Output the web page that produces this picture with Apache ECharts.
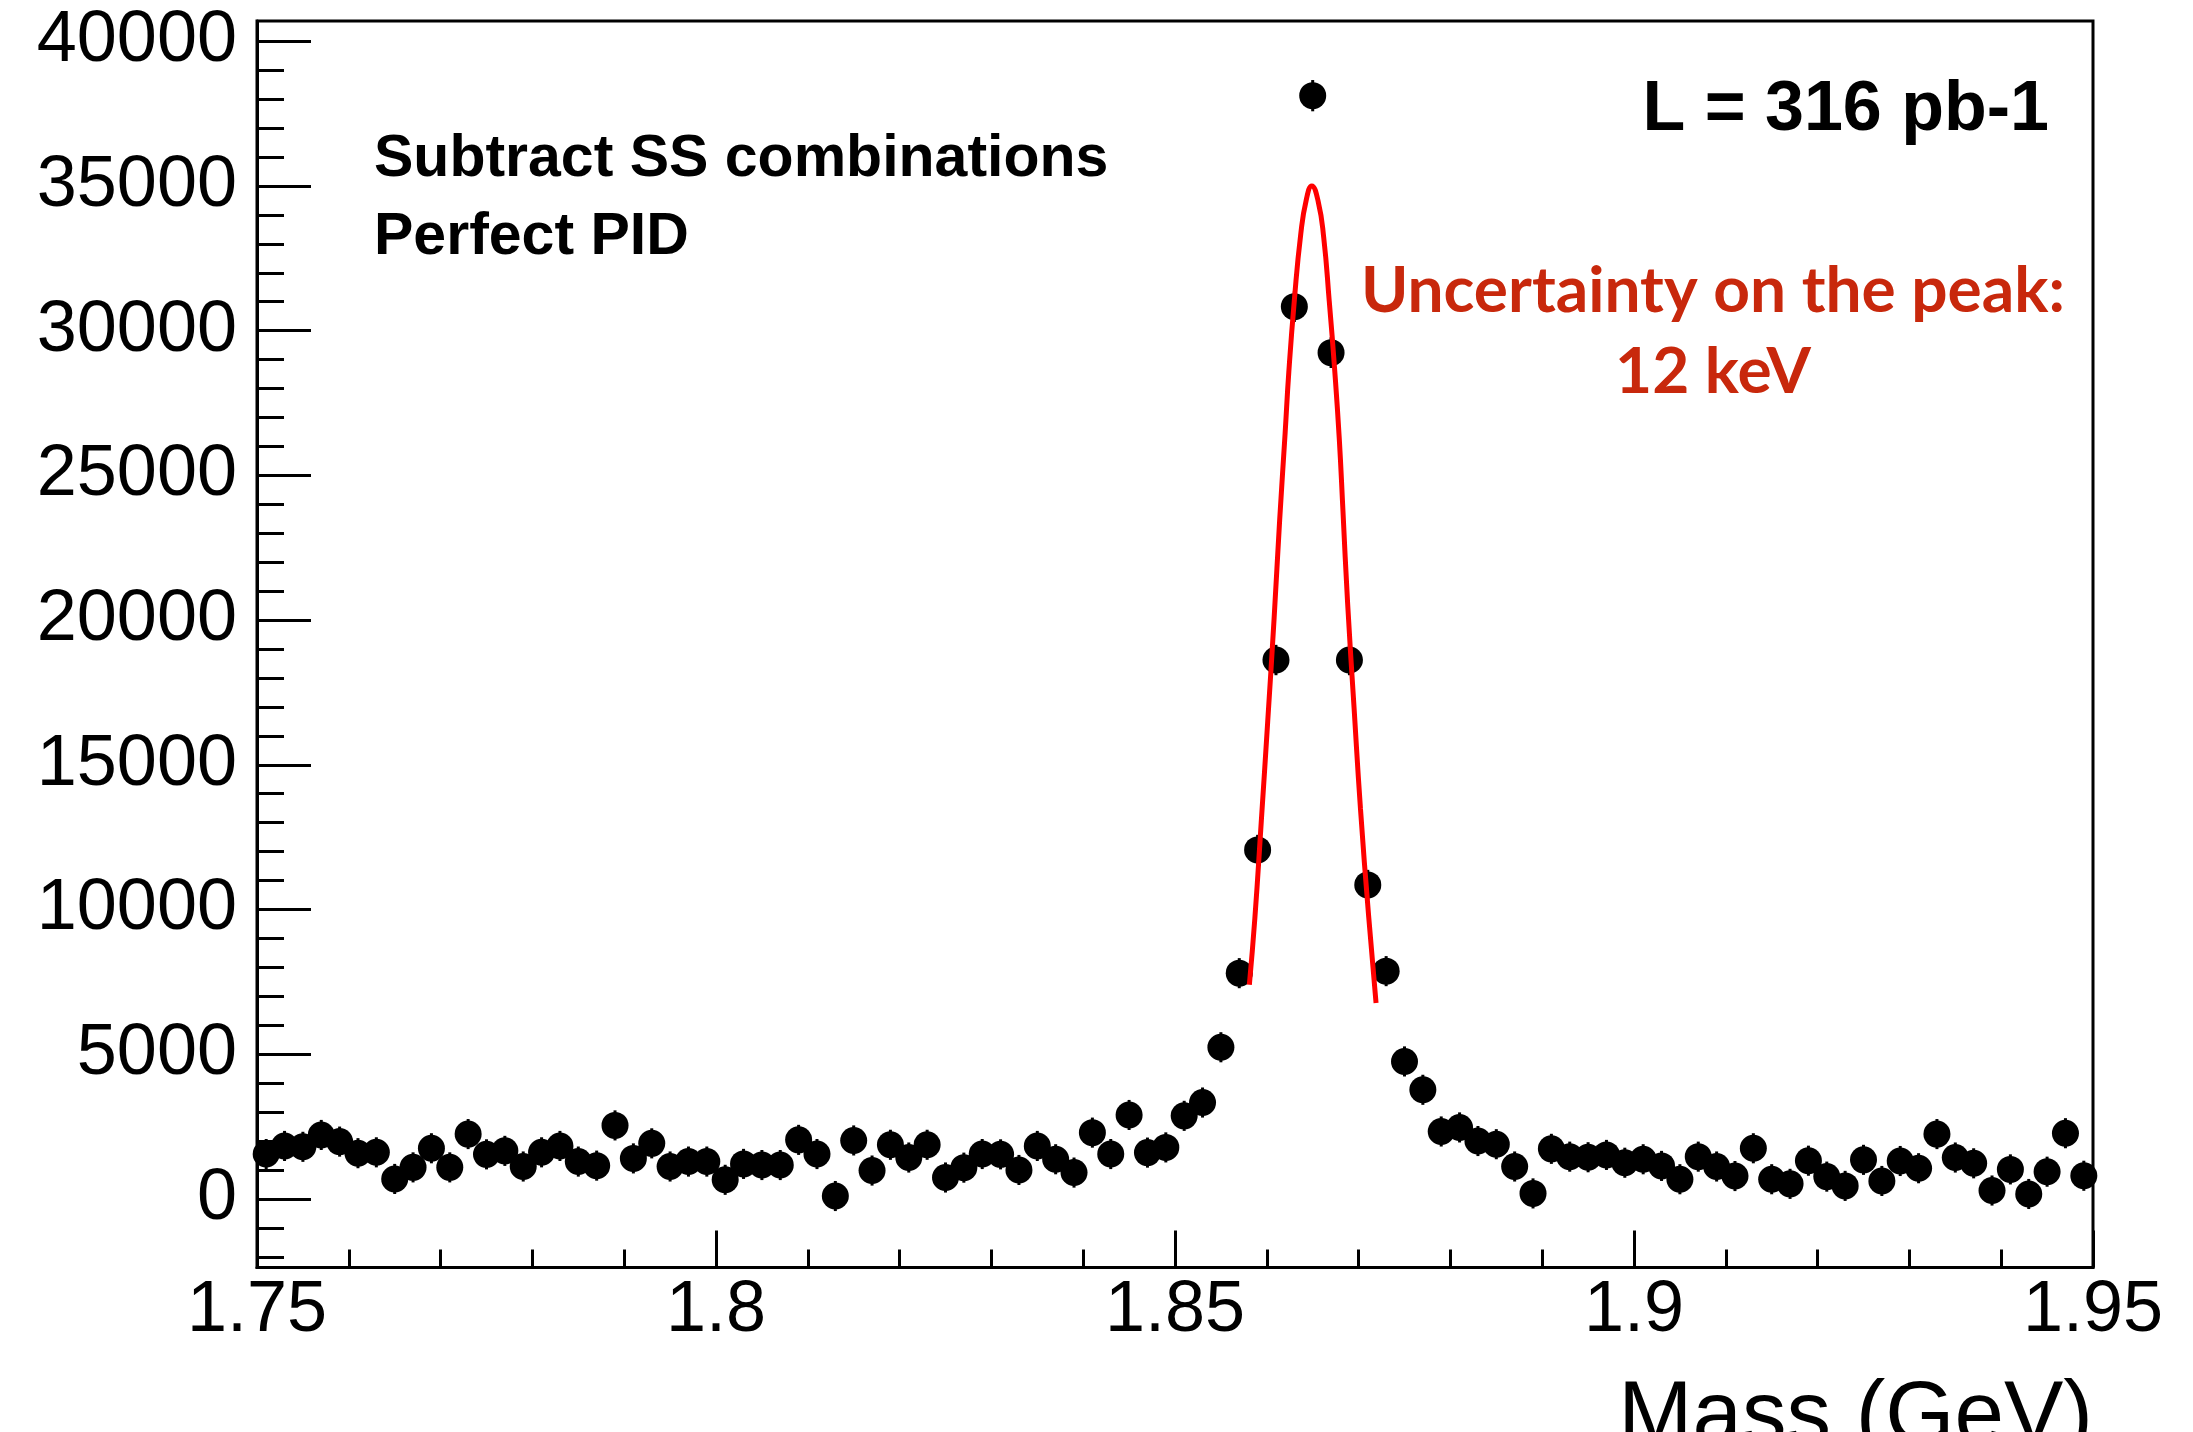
<!DOCTYPE html>
<html><head><meta charset="utf-8">
<script src="https://cdn.jsdelivr.net/npm/echarts@6/dist/echarts.min.js"></script>
<style>html,body{margin:0;padding:0;background:#fff}#c{width:2193px;height:1432px}</style>
</head><body><div id="c"></div>
<script>
// Bin centres (GeV), 0.002 GeV bins from 1.75 to 1.95
const binCenters = [
 1.751,1.753,1.755,1.757,1.759,1.761,1.763,1.765,1.767,1.769,
 1.771,1.773,1.775,1.777,1.779,1.781,1.783,1.785,1.787,1.789,
 1.791,1.793,1.795,1.797,1.799,1.801,1.803,1.805,1.807,1.809,
 1.811,1.813,1.815,1.817,1.819,1.821,1.823,1.825,1.827,1.829,
 1.831,1.833,1.835,1.837,1.839,1.841,1.843,1.845,1.847,1.849,
 1.851,1.853,1.855,1.857,1.859,1.861,1.863,1.865,1.867,1.869,
 1.871,1.873,1.875,1.877,1.879,1.881,1.883,1.885,1.887,1.889,
 1.891,1.893,1.895,1.897,1.899,1.901,1.903,1.905,1.907,1.909,
 1.911,1.913,1.915,1.917,1.919,1.921,1.923,1.925,1.927,1.929,
 1.931,1.933,1.935,1.937,1.939,1.941,1.943,1.945,1.947,1.949
];
// Entries per bin
const counts = [
 1550,1830,1800,2210,1980,1580,1610,690,1090,1750,
 1090,2240,1540,1660,1120,1610,1830,1290,1150,2540,
 1400,1920,1120,1290,1290,660,1210,1170,1170,2040,
 1550,100,2020,980,1870,1430,1870,740,1080,1550,
 1540,1000,1830,1370,910,2290,1550,2900,1600,1780,
 2870,3330,5240,7800,12060,18620,30830,38120,29240,18620,
 10850,7870,4750,3770,2330,2470,2000,1890,1120,190,
 1730,1460,1440,1520,1250,1370,1140,680,1460,1120,
 790,1750,680,520,1320,770,450,1350,620,1310,
 1060,2240,1430,1230,290,1020,170,940,2270,800
];
// Error bar half-heights
const errors = [
 520,520,520,520,520,520,520,520,520,520,
 520,520,520,520,520,520,520,520,520,520,
 520,520,520,520,520,520,520,520,520,520,
 520,520,520,520,520,520,520,520,520,520,
 520,520,520,520,520,520,520,520,520,520,
 520,520,520,520,520,525,530,540,530,525,
 520,520,520,520,520,520,520,520,520,520,
 520,520,520,520,520,520,520,520,520,520,
 520,520,520,520,520,520,520,520,520,520,
 520,520,520,520,520,520,520,520,520,520
];
// Fit curve points
const fitMass = [1.8581,1.8587,1.8594,1.8601,1.8608,1.8614,1.8620,1.8624,1.8630,1.8637,1.8643,1.8649,
                 1.8656,1.8662,1.8668,1.8674,1.8679,1.8683,1.8688,1.8695,1.8702,1.8711,1.8719];
const fitValue = [7400,9700,13050,16500,20080,23450,26480,28580,31050,33340,34520,35000,
                  34460,33220,31030,28620,26240,23750,20600,17000,13500,9750,6770];
// Axis ticks
const xMajorTicks = [1.75,1.8,1.85,1.9,1.95];
const xMinorTicks = [1.76,1.77,1.78,1.79,1.81,1.82,1.83,1.84,1.86,1.87,1.88,1.89,1.91,1.92,1.93,1.94];
const yMajorTicks = [0,5000,10000,15000,20000,25000,30000,35000,40000];
const yMinorTicks = [-2000,-1000,1000,2000,3000,4000,6000,7000,8000,9000,11000,12000,13000,14000,
  16000,17000,18000,19000,21000,22000,23000,24000,26000,27000,28000,29000,31000,32000,33000,34000,
  36000,37000,38000,39000];

const FONT = "'Liberation Sans', Arial, Helvetica, sans-serif";
const chart = echarts.init(document.getElementById('c'), null, {renderer: 'canvas'});
const YMIN = -2370, YMAX = 40700;

const points = binCenters.map((x, i) => [x, counts[i], errors[i]]);
const fit = fitMass.map((m, i) => [m, fitValue[i]]);

chart.setOption({
  animation: false,
  backgroundColor: '#fff',
  grid: {left: 257, right: 100, top: 21, bottom: 164.5, show: true, borderColor: '#000', borderWidth: 3,
         containLabel: false, outerBoundsMode: 'none'},
  xAxis: [{
    type: 'value', min: 1.75, max: 1.95, position: 'bottom',
    name: 'Mass (GeV)', nameLocation: 'end', nameGap: 0,
    nameTextStyle: {fontFamily: FONT, fontSize: 89, color: '#000', align: 'right', verticalAlign: 'top', padding: [106, 0, 0, 0]},
    axisLine: {show: true, onZero: false, lineStyle: {color: '#000', width: 3}},
    axisTick: {show: true, inside: true, length: 37, lineStyle: {color: '#000', width: 3}, customValues: xMajorTicks},
    axisLabel: {show: true, customValues: xMajorTicks, fontFamily: FONT, fontSize: 72, color: '#000', margin: 8,
      formatter: v => String(+Number(v).toFixed(2))},
    splitLine: {show: false}
  }, {
    type: 'value', min: 1.75, max: 1.95, position: 'bottom', gridIndex: 0,
    axisLine: {show: false, onZero: false},
    axisTick: {show: true, inside: true, length: 18, lineStyle: {color: '#000', width: 3}, customValues: xMinorTicks},
    axisLabel: {show: false}, splitLine: {show: false}
  }],
  yAxis: [{
    type: 'value', min: YMIN, max: YMAX, position: 'left',
    axisLine: {show: true, onZero: false, lineStyle: {color: '#000', width: 3}},
    axisTick: {show: true, inside: true, length: 54, lineStyle: {color: '#000', width: 3}, customValues: yMajorTicks},
    axisLabel: {show: true, customValues: yMajorTicks, fontFamily: FONT, fontSize: 72, color: '#000', margin: 20,
      formatter: v => String(Math.round(v))},
    splitLine: {show: false}
  }, {
    type: 'value', min: YMIN, max: YMAX, position: 'left', offset: 0,
    axisLine: {show: false, onZero: false},
    axisTick: {show: true, inside: true, length: 27, lineStyle: {color: '#000', width: 3}, customValues: yMinorTicks},
    axisLabel: {show: false}, splitLine: {show: false}
  }],
  series: [{
    type: 'custom', name: 'errors', xAxisIndex: 0, yAxisIndex: 0, z: 2,
    data: points,
    renderItem: function (params, api) {
      const x = api.value(0), y = api.value(1), e = api.value(2);
      const p1 = api.coord([x, y - e]);
      const p2 = api.coord([x, y + e]);
      return {type: 'line', shape: {x1: p1[0], y1: p1[1], x2: p2[0], y2: p2[1]},
        style: {stroke: '#000', lineWidth: 3}};
    }
  }, {
    type: 'scatter', name: 'data', xAxisIndex: 0, yAxisIndex: 0, z: 3,
    symbol: 'circle', symbolSize: 27,
    itemStyle: {color: '#000', opacity: 1},
    data: points.map(p => [p[0], p[1]])
  }, {
    type: 'line', name: 'fit', xAxisIndex: 0, yAxisIndex: 0, z: 4,
    data: fit, showSymbol: false, symbol: 'none', smooth: 0.5,
    lineStyle: {color: '#ff0000', width: 5}
  }],
  graphic: [
    {type: 'text', x: 374, y: 160, style: {text: 'Subtract SS combinations', fontFamily: FONT, fontWeight: 'bold', fontSize: 59, fill: '#000', align: 'left', verticalAlign: 'middle'}},
    {type: 'text', x: 374, y: 238, style: {text: 'Perfect PID', fontFamily: FONT, fontWeight: 'bold', fontSize: 59, fill: '#000', align: 'left', verticalAlign: 'middle'}},
    {type: 'text', x: 2049, y: 111, style: {text: 'L = 316 pb-1', fontFamily: FONT, fontWeight: 'bold', fontSize: 70, fill: '#000', align: 'right', verticalAlign: 'middle'}},
    {type: 'text', x: 1713, y: 291, style: {text: 'Uncertainty on the peak:', fontFamily: 'Lato, sans-serif', fontWeight: 'bold', fontSize: 64, fill: '#c8280c', align: 'center', verticalAlign: 'middle'}},
    {type: 'text', x: 1713, y: 372, style: {text: '12 keV', fontFamily: 'Lato, sans-serif', fontWeight: 'bold', fontSize: 64, fill: '#c8280c', align: 'center', verticalAlign: 'middle'}}
  ]
});
</script>
</body></html>
